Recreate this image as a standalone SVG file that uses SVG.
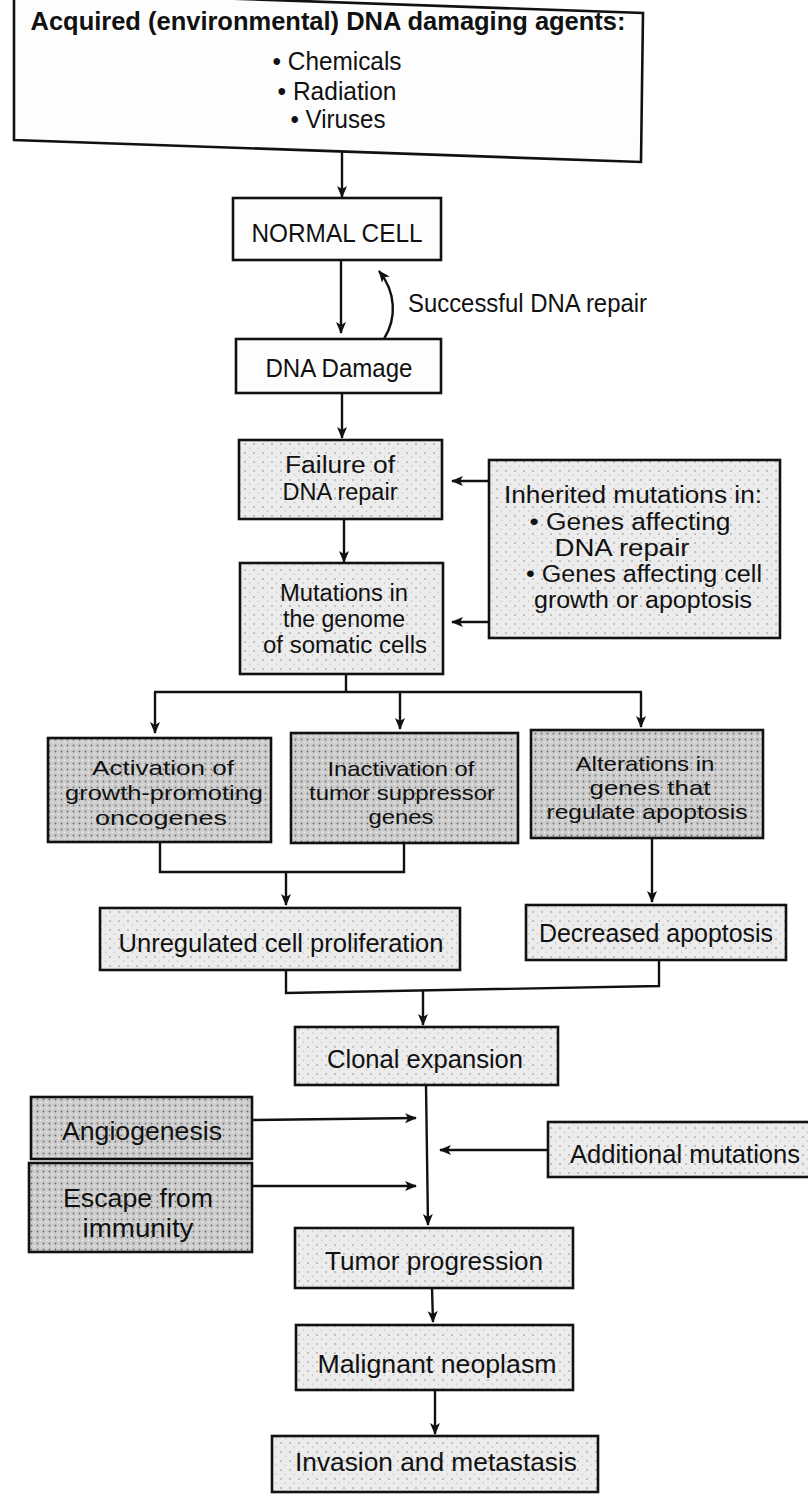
<svg xmlns="http://www.w3.org/2000/svg" width="808" height="1500" viewBox="0 0 808 1500">
<style>
.box{stroke:#111;stroke-width:2.6;}
.w{fill:#fdfdfd;}
.l{fill:url(#stL);}
.d{fill:url(#stD);}
text{font-family:"Liberation Sans",Arial,sans-serif;font-size:25px;fill:#111;text-anchor:middle;}
.h{font-weight:bold;}
.lab{text-anchor:start;}
.s{font-size:23px;}
.t{font-size:21px;}
.c{fill:none;stroke:#111;stroke-width:2.4;}
</style>
<defs>
<pattern id="stL" width="9" height="9" patternUnits="userSpaceOnUse"><rect width="9" height="9" fill="#ececec"/><circle cx="2" cy="3" r="0.8" fill="#8a8a8a"/><circle cx="6.5" cy="7" r="0.6" fill="#a0a0a0"/></pattern>
<pattern id="stD" width="6" height="6" patternUnits="userSpaceOnUse"><rect width="6" height="6" fill="#cdcdcd"/><circle cx="1.5" cy="1.5" r="0.9" fill="#6e6e6e"/><circle cx="4.5" cy="4.2" r="0.8" fill="#f4f4f4"/></pattern>
<marker id="ah" markerWidth="12" markerHeight="12" refX="11" refY="6" orient="auto" markerUnits="userSpaceOnUse"><path d="M0,1 L12,6 L0,11 L3,6 Z" fill="#111"/></marker>
</defs>

<g id="n-agents">
<polygon class="box w" points="14,-9 643,13 641,162 14,140"/>
<text class="h" x="328" y="30" textLength="595" lengthAdjust="spacingAndGlyphs">Acquired (environmental) DNA damaging agents:</text>
<text x="337" y="70" textLength="129" lengthAdjust="spacingAndGlyphs">• Chemicals</text>
<text x="337" y="100" textLength="119" lengthAdjust="spacingAndGlyphs">• Radiation</text>
<text x="338" y="128" textLength="95" lengthAdjust="spacingAndGlyphs">• Viruses</text>
</g>

<g id="n-normal">
<rect class="box w" x="233" y="198" width="208" height="62"/>
<text x="337" y="242" textLength="171" lengthAdjust="spacingAndGlyphs">NORMAL CELL</text>
</g>

<g id="n-damage">
<rect class="box w" x="236" y="339" width="205" height="54"/>
<text x="339" y="377" textLength="147" lengthAdjust="spacingAndGlyphs">DNA Damage</text>
</g>

<g id="n-failure">
<rect class="box l" x="239" y="440" width="203" height="79"/>
<text class="s" x="340" y="473" textLength="110" lengthAdjust="spacingAndGlyphs">Failure of</text>
<text class="s" x="340" y="500" textLength="115" lengthAdjust="spacingAndGlyphs">DNA repair</text>
</g>

<g id="n-mutations">
<rect class="box l" x="240" y="563" width="203" height="111"/>
<text class="s" x="344" y="601" textLength="128" lengthAdjust="spacingAndGlyphs">Mutations in</text>
<text class="s" x="344" y="627" textLength="122" lengthAdjust="spacingAndGlyphs">the genome</text>
<text class="s" x="345" y="653" textLength="164" lengthAdjust="spacingAndGlyphs">of somatic cells</text>
</g>

<g id="n-inherited">
<rect class="box l" x="489" y="460" width="291" height="178"/>
<text class="s" x="633" y="503" textLength="258" lengthAdjust="spacingAndGlyphs">Inherited mutations in:</text>
<text class="s" x="630" y="530" textLength="201" lengthAdjust="spacingAndGlyphs">• Genes affecting</text>
<text class="s" x="622" y="556" textLength="135" lengthAdjust="spacingAndGlyphs">DNA repair</text>
<text class="s" x="644" y="582" textLength="236" lengthAdjust="spacingAndGlyphs">• Genes affecting cell</text>
<text class="s" x="643" y="608" textLength="218" lengthAdjust="spacingAndGlyphs">growth or apoptosis</text>
</g>

<g id="n-activation">
<rect class="box d" x="48" y="738" width="223" height="104"/>
<text class="t" x="163" y="775" textLength="142" lengthAdjust="spacingAndGlyphs">Activation of</text>
<text class="t" x="164" y="800" textLength="198" lengthAdjust="spacingAndGlyphs">growth-promoting</text>
<text class="t" x="161" y="825" textLength="132" lengthAdjust="spacingAndGlyphs">oncogenes</text>
</g>

<g id="n-inactivation">
<rect class="box d" x="291" y="733" width="227" height="110"/>
<text class="t" x="401" y="776" textLength="147" lengthAdjust="spacingAndGlyphs">Inactivation of</text>
<text class="t" x="402" y="800" textLength="186" lengthAdjust="spacingAndGlyphs">tumor suppressor</text>
<text class="t" x="401" y="824" textLength="65" lengthAdjust="spacingAndGlyphs">genes</text>
</g>

<g id="n-alterations">
<rect class="box d" x="531" y="730" width="232" height="108"/>
<text class="t" x="645" y="771" textLength="139" lengthAdjust="spacingAndGlyphs">Alterations in</text>
<text class="t" x="650" y="795" textLength="121" lengthAdjust="spacingAndGlyphs">genes that</text>
<text class="t" x="647" y="819" textLength="201" lengthAdjust="spacingAndGlyphs">regulate apoptosis</text>
</g>

<g id="n-unregulated">
<rect class="box l" x="100" y="908" width="360" height="62"/>
<text x="281" y="952" textLength="325" lengthAdjust="spacingAndGlyphs">Unregulated cell proliferation</text>
</g>

<g id="n-decreased">
<rect class="box l" x="526" y="905" width="260" height="55"/>
<text x="656" y="942" textLength="234" lengthAdjust="spacingAndGlyphs">Decreased apoptosis</text>
</g>

<g id="n-clonal">
<rect class="box l" x="295" y="1027" width="263" height="58"/>
<text x="425" y="1068" textLength="196" lengthAdjust="spacingAndGlyphs">Clonal expansion</text>
</g>

<g id="n-angiogenesis">
<rect class="box d" x="31" y="1097" width="221" height="62"/>
<text x="142" y="1140" textLength="160" lengthAdjust="spacingAndGlyphs">Angiogenesis</text>
</g>

<g id="n-escape">
<rect class="box d" x="29" y="1163" width="223" height="89"/>
<text x="138" y="1207" textLength="150" lengthAdjust="spacingAndGlyphs">Escape from</text>
<text x="138" y="1237" textLength="111" lengthAdjust="spacingAndGlyphs">immunity</text>
</g>

<g id="n-additional">
<rect class="box l" x="548" y="1122" width="270" height="55"/>
<text class="lab" x="570" y="1163" textLength="230" lengthAdjust="spacingAndGlyphs">Additional mutations</text>
</g>

<g id="n-tumor">
<rect class="box l" x="295" y="1228" width="278" height="60"/>
<text x="434" y="1270" textLength="218" lengthAdjust="spacingAndGlyphs">Tumor progression</text>
</g>

<g id="n-malignant">
<rect class="box l" x="296" y="1325" width="277" height="65"/>
<text x="437" y="1373" textLength="239" lengthAdjust="spacingAndGlyphs">Malignant neoplasm</text>
</g>

<g id="n-invasion">
<rect class="box l" x="272" y="1436" width="326" height="56"/>
<text x="436" y="1471" textLength="282" lengthAdjust="spacingAndGlyphs">Invasion and metastasis</text>
</g>

<g id="connectors">
<path class="c" d="M342,152 L342,197" marker-end="url(#ah)"/>
<path class="c" d="M341,260 L341,333" marker-end="url(#ah)"/>
<path class="c" d="M384,339 C397,318 396,292 379,271" marker-end="url(#ah)"/>
<text class="lab" x="408" y="312" textLength="239" lengthAdjust="spacingAndGlyphs">Successful DNA repair</text>
<path class="c" d="M342,393 L342,438" marker-end="url(#ah)"/>
<path class="c" d="M344,519 L344,562" marker-end="url(#ah)"/>
<path class="c" d="M489,481 L452,481" marker-end="url(#ah)"/>
<path class="c" d="M489,622 L452,622" marker-end="url(#ah)"/>
<path class="c" d="M346,674 L346,692 M154,692 L642,692"/>
<path class="c" d="M155,692 L155,733" marker-end="url(#ah)"/>
<path class="c" d="M400,692 L400,729" marker-end="url(#ah)"/>
<path class="c" d="M641,692 L641,727" marker-end="url(#ah)"/>
<path class="c" d="M160,842 L160,872 L404,872 L404,843"/>
<path class="c" d="M286,872 L286,905" marker-end="url(#ah)"/>
<path class="c" d="M652,838 L652,902" marker-end="url(#ah)"/>
<path class="c" d="M286,970 L286,993 L659,986 L659,960"/>
<path class="c" d="M423,990 L423,1025" marker-end="url(#ah)"/>
<path class="c" d="M426,1085 L428,1225" marker-end="url(#ah)"/>
<path class="c" d="M252,1120 L416,1118" marker-end="url(#ah)"/>
<path class="c" d="M252,1186 L416,1186" marker-end="url(#ah)"/>
<path class="c" d="M548,1150 L440,1150" marker-end="url(#ah)"/>
<path class="c" d="M432,1288 L433,1322" marker-end="url(#ah)"/>
<path class="c" d="M435,1390 L435,1434" marker-end="url(#ah)"/>
</g>
</svg>
